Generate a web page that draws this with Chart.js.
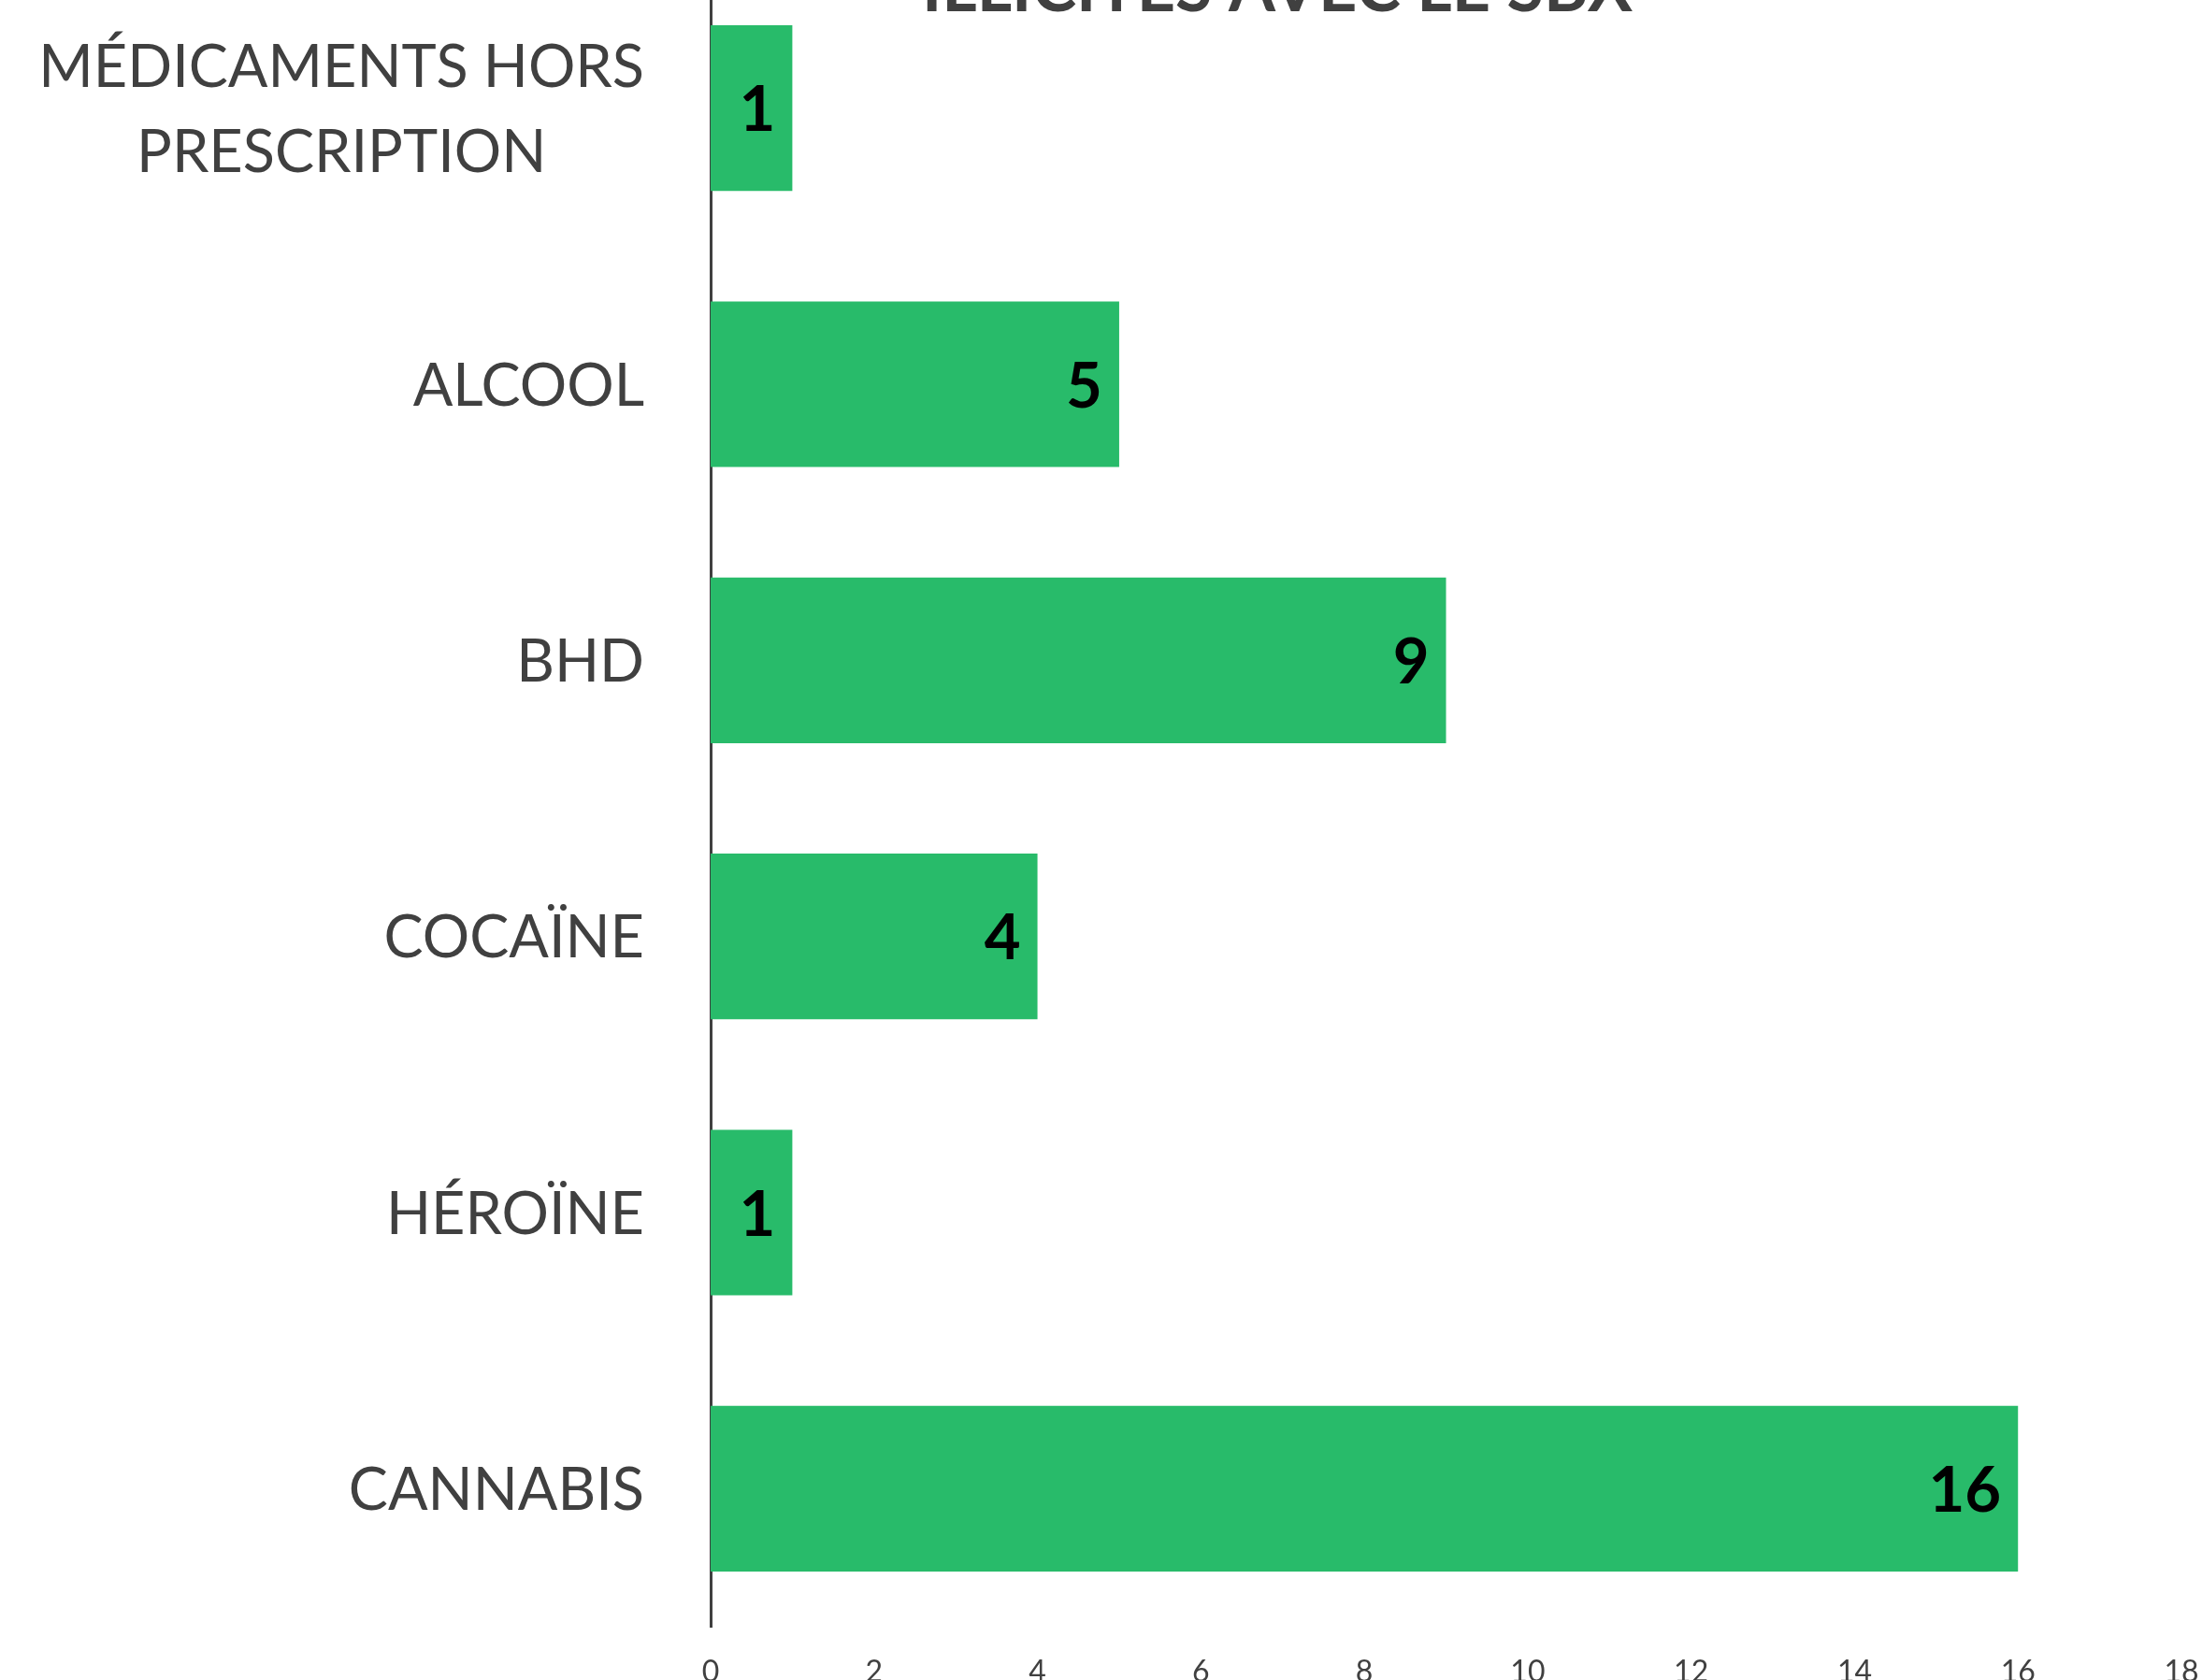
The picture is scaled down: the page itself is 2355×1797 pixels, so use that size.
<!DOCTYPE html>
<html><head><meta charset="utf-8">
<script src="https://cdn.jsdelivr.net/npm/chart.js@4.4.0/dist/chart.umd.min.js"></script>
<style>
html,body{margin:0;padding:0;overflow:hidden;background:#fff;width:2355px;height:1797px}
#wrap{position:absolute;left:0;top:-100px;width:2400px;height:1940px}
</style></head><body>
<div id="wrap"><canvas id="c" width="2400" height="1940"></canvas></div>
<script>
const categories = [['MÉDICAMENTS HORS','PRESCRIPTION'],'ALCOOL','BHD','COCAÏNE','HÉROÏNE','CANNABIS'];
const values = [1,5,9,4,1,16];
const xMin = 0, xMax = 18, xStep = 2;
const titleText = 'ILLICITES AVEC LE SBX';

const TEXT = '#404040';
const LABEL_SIZE = 63;
const VALUE_SIZE = 67;
const customText = {
  id: 'customText',
  afterDraw(chart) {
    const ctx = chart.ctx;
    const ys = chart.scales.y;
    const area = chart.chartArea;
    ctx.save();
    ctx.fillStyle = TEXT;
    ctx.font = LABEL_SIZE + 'px Lato';
    ctx.textBaseline = 'alphabetic';
    ctx.textAlign = 'center';
    const right = area.left - 71;
    const lh = 91;
    categories.forEach((lab, i) => {
      const lines = Array.isArray(lab) ? lab : [lab];
      const w = Math.max(...lines.map(l => ctx.measureText(l).width));
      const cx = right - w / 2;
      const cy = ys.getPixelForTick(i);
      lines.forEach((l, j) => {
        ctx.fillText(l, cx, cy + (j - (lines.length - 1) / 2) * lh + 0.358 * LABEL_SIZE);
      });
    });
    const meta = chart.getDatasetMeta(0);
    ctx.font = 'bold ' + VALUE_SIZE + 'px Lato';
    ctx.fillStyle = '#000';
    ctx.textAlign = 'right';
    meta.data.forEach((bar, i) => {
      ctx.fillText(String(values[i]), bar.x - 18, bar.y + 0.37 * VALUE_SIZE);
    });
    ctx.font = 'bold 72px Lato';
    ctx.fillStyle = TEXT;
    ctx.textAlign = 'center';
    ctx.fillText(titleText, 1366, area.top + 44);
    ctx.restore();
  }
};

new Chart(document.getElementById('c'), {
  type: 'bar',
  data: {
    labels: categories,
    datasets: [{
      data: values,
      backgroundColor: '#28BB6A',
      borderWidth: 0,
      barPercentage: 0.6,
      categoryPercentage: 1.0
    }]
  },
  options: {
    indexAxis: 'y',
    responsive: false,
    animation: false,
    devicePixelRatio: 1,
    layout: { padding: { top: 68, right: 67, left: 0, bottom: 0 } },
    plugins: { legend: { display: false }, tooltip: { enabled: false }, title: { display: false } },
    scales: {
      y: {
        type: 'category',
        offset: true,
        grid: { display: false, drawTicks: false },
        border: { display: true, color: TEXT, width: 3 },
        ticks: { color: 'rgba(0,0,0,0)', font: { size: 8 } },
        afterFit(s) { s.width = 760; }
      },
      x: {
        type: 'linear',
        min: xMin, max: xMax,
        grid: { display: false, drawTicks: false },
        border: { display: false },
        ticks: { stepSize: xStep, color: TEXT, font: { family: 'Lato', size: 32 }, padding: 29 },
        afterFit(s) { s.height = 100; }
      }
    }
  },
  plugins: [customText]
});
</script>
</body></html>
